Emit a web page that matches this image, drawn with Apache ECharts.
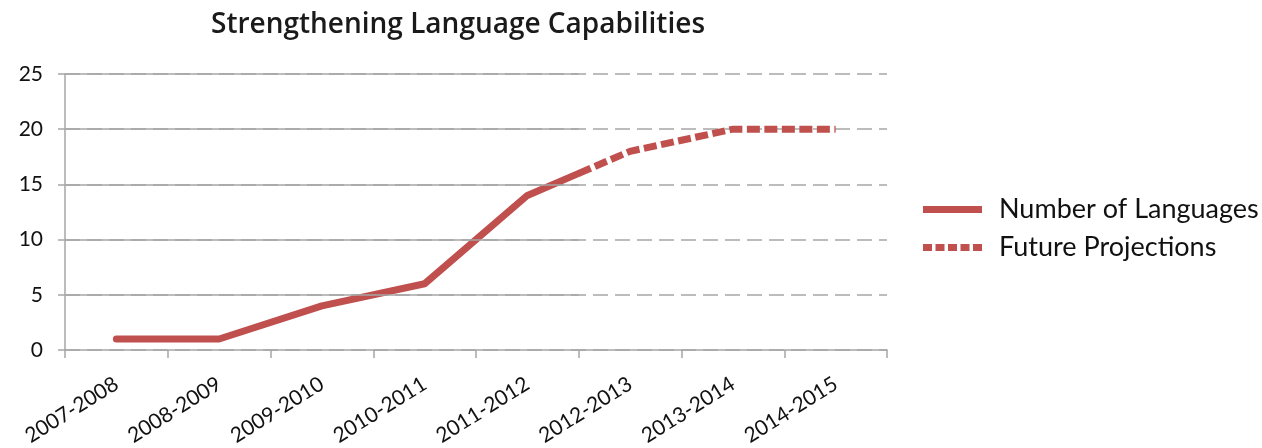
<!DOCTYPE html>
<html>
<head>
<meta charset="utf-8">
<script src="https://cdn.jsdelivr.net/npm/echarts@6/dist/echarts.min.js"></script>
<style>html,body{margin:0;padding:0;background:#fff}#c{width:1262px;height:448px}</style>
</head>
<body>
<div id="c"></div>
<script>
// Data
const categories = ['2007-2008','2008-2009','2009-2010','2010-2011','2011-2012','2012-2013','2013-2014','2014-2015'];
// positions in category units (0 = centre of first category)
const actualPos = [0, 1, 2, 3, 4, 4.5];
const actualValues = [1, 1, 4, 6, 14, 16];
const projPos = [4.5, 5, 6, 7];
const projValues = [16, 18, 20, 20];
const yTicks = [0, 5, 10, 15, 20, 25];
const solidGridEnd = 4.5; // gridlines solid up to boundary between 2011-2012 and 2012-2013

const red = '#C0504D';
const grey = '#A6A6A6';
const font = 'Lato';

const pair = (xs, ys) => xs.map((x, i) => [x, ys[i]]);

const gridMarks = yTicks.filter(v => v > 0).map(v => [
  { coord: [-0.5, v] }, { coord: [solidGridEnd, v] }
]);

const dashIcon = 'path://M0,0H9V7H0Z M12.5,0H21.5V7H12.5Z M25,0H34V7H25Z M37.5,0H46.5V7H37.5Z M50,0H59V7H50Z';

const chart = echarts.init(document.getElementById('c'), null, { renderer: 'canvas' });
chart.setOption({
  animation: false,
  backgroundColor: '#fff',
  title: {
    text: 'Strengthening Language Capabilities',
    left: 453, top: 6, textAlign: 'center',
    textStyle: { fontFamily: 'Open Sans', fontSize: 28, fontWeight: 600, color: '#1a1a1a' }
  },
  legend: {
    orient: 'vertical', left: 918, top: 191, itemGap: 11,
    itemWidth: 59, itemHeight: 14,
    textStyle: { fontFamily: font, fontSize: 27, color: '#111', padding: [0, 0, 0, 12] },
    data: [
      { name: 'Number of Languages', icon: 'path://M0,0H59V7H0Z', itemStyle: { color: red } },
      { name: 'Future Projections', icon: dashIcon, itemStyle: { color: red } }
    ]
  },
  grid: { left: 65, right: 375, top: 74, bottom: 98, containLabel: false, outerBoundsMode: 'none' },
  xAxis: [
    {
      type: 'category', data: categories, boundaryGap: true,
      axisLine: { lineStyle: { color: grey, width: 1.5 } },
      axisTick: { show: true, length: 8, lineStyle: { color: grey, width: 1.5 } },
      axisLabel: { interval: 0, rotate: 32, margin: 32, fontFamily: font, fontSize: 21, color: '#111' },
      splitLine: { show: false }
    },
    { type: 'value', min: -0.5, max: 7.5, show: false }
  ],
  yAxis: {
    type: 'value', min: 0, max: 25, interval: 5,
    axisLine: { show: true, onZero: false, lineStyle: { color: grey, width: 1.5 } },
    axisTick: { show: true, length: 7, lineStyle: { color: grey, width: 1.5 } },
    axisLabel: { fontFamily: font, fontSize: 21, color: '#111', margin: 22 },
    splitLine: { show: true, lineStyle: { color: grey, width: 1.5, type: [15, 7] } }
  },
  series: [
    {
      name: 'gridSolid', type: 'line', xAxisIndex: 1, data: [], z: 1, silent: true,
      markLine: {
        silent: true, symbol: 'none', label: { show: false },
        lineStyle: { color: grey, width: 1.5, type: 'solid' },
        emphasis: { disabled: true },
        data: gridMarks
      }
    },
    {
      name: 'Number of Languages', type: 'line', xAxisIndex: 1,
      data: pair(actualPos, actualValues),
      showSymbol: false, symbol: 'none', z: 3,
      lineStyle: { color: red, width: 7, cap: 'round', join: 'round' },
      itemStyle: { color: red }
    },
    {
      name: 'Future Projections', type: 'line', xAxisIndex: 1,
      data: pair(projPos, projValues),
      showSymbol: false, symbol: 'none', z: 3,
      lineStyle: { color: red, width: 7, type: [13, 4.5], cap: 'butt', join: 'miter' },
      itemStyle: { color: red }
    }
  ]
});
</script>
</body>
</html>
